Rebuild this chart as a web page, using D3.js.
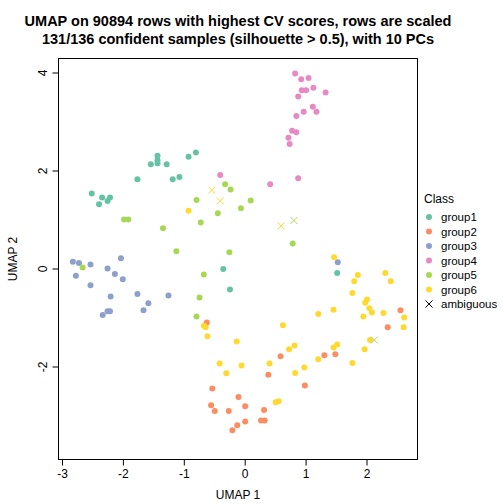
<!DOCTYPE html><html><head><script src="https://cdn.jsdelivr.net/npm/d3@7"></script>
<style>body{margin:0;background:#fff}text{font-family:"Liberation Sans",Arial,sans-serif}</style></head><body><svg id="c" width="504" height="504"></svg>
<script>
const groups=["group1","group2","group3","group4","group5","group6"];
const colors=["#66C2A5","#FC8D62","#8DA0CB","#E78AC3","#A6D854","#FFD92F"];
const xTicks=[-3,-2,-1,0,1,2];
const yTicks=[-2,0,2,4];
const g1=[[-2.52,1.54],[-2.40,1.32],[-2.35,1.46],[-2.26,1.39],[-2.22,1.46],[-1.77,1.83],[-1.55,2.14],[-1.44,2.31],[-1.44,2.22],[-1.44,2.16],[-1.29,2.14],[-1.19,1.83],[-1.08,1.88],[-0.93,2.29],[-0.81,2.38],[-0.36,0.0],[-0.25,-0.42],[1.51,-0.08]];
const g2=[[-0.63,-1.09],[-0.54,-2.44],[-0.11,-2.61],[-0.56,-2.78],[-0.50,-2.90],[-0.27,-2.90],[0.0,-2.80],[0.0,-3.11],[-0.13,-3.19],[-0.21,-3.29],[0.31,-2.88],[0.26,-3.09],[0.32,-3.09],[0.58,-1.78],[0.38,-2.16],[0.98,-2.38],[1.30,-1.76],[1.48,-1.74],[2.55,-0.84],[2.34,-1.19]];
const g3=[[-2.83,0.15],[-2.73,0.12],[-2.54,0.09],[-2.78,-0.14],[-2.54,-0.33],[-2.26,0.01],[-2.14,-0.10],[-2.04,0.22],[-2.01,-0.21],[-2.21,-0.56],[-1.77,-0.51],[-1.59,-0.70],[-1.67,-0.84],[-1.26,-0.54],[-2.34,-0.94],[-2.26,-0.86],[-2.22,-0.86],[1.52,0.14]];
const g4=[[0.82,3.99],[0.92,3.87],[1.04,3.90],[0.93,3.65],[1.00,3.65],[1.12,3.70],[1.32,3.60],[0.87,3.52],[1.11,3.31],[0.96,3.21],[1.17,3.21],[0.84,3.12],[0.77,2.82],[0.84,2.79],[0.71,2.68],[0.73,2.55],[0.87,1.85],[0.41,1.73],[-0.41,1.92]];
const g5=[[-0.33,1.73],[-0.24,1.62],[-0.80,1.41],[-0.07,1.24],[0.09,1.40],[-0.45,1.14],[-0.73,0.95],[-1.99,1.01],[-1.92,1.01],[-1.35,0.83],[-1.13,0.36],[-0.26,0.34],[0.78,0.52],[-2.67,0.03],[-0.68,-0.11],[-0.75,-0.58],[-0.80,-0.97]];
const g6=[[-0.93,1.19],[-0.68,-1.16],[-0.65,-1.19],[-0.62,-1.37],[-0.14,-1.48],[-0.42,-1.93],[-0.06,-1.97],[-0.31,-2.13],[1.46,0.24],[1.85,-0.12],[1.79,-0.25],[2.30,-0.08],[2.39,-0.25],[1.76,-0.49],[2.00,-0.62],[1.97,-0.69],[2.04,-0.80],[2.08,-0.89],[1.94,-0.97],[2.27,-0.90],[2.61,-0.99],[2.60,-1.19],[1.45,-0.83],[1.20,-0.92],[0.62,-1.15],[2.05,-1.45],[1.96,-1.64],[1.76,-1.92],[1.51,-1.54],[1.45,-1.60],[0.81,-1.56],[0.72,-1.64],[1.20,-1.84],[0.40,-1.93],[0.97,-2.01],[0.82,-2.12],[0.50,-2.72],[0.55,-2.70]];
const ambX=[-0.55,-0.41,0.59,0.80,2.12];
const ambY=[1.61,1.39,0.88,0.99,-1.45];
const ambG=[5,5,5,4,4];
const series=[g1,g2,g3,g4,g5,g6];
const svg=d3.select("#c");
const x=d3.scaleLinear().domain([-3,2]).range([62.5,367]);
const y=d3.scaleLinear().domain([-2,4]).range([367,73]);
const L=58.5,R=417.5,T=58.5,B=459.5;
svg.append("rect").attr("x",L).attr("y",T).attr("width",R-L).attr("height",B-T).attr("fill","none").attr("stroke","#000");
xTicks.forEach(t=>{svg.append("line").attr("x1",x(t)).attr("x2",x(t)).attr("y1",B).attr("y2",B+6).attr("stroke","#000");
 svg.append("text").attr("x",x(t)).attr("y",B+18).attr("text-anchor","middle").attr("font-size",12).text(t);});
yTicks.forEach(t=>{svg.append("line").attr("x1",L).attr("x2",L-6).attr("y1",y(t)).attr("y2",y(t)).attr("stroke","#000");
 svg.append("text").attr("transform",`translate(${L-12},${y(t)}) rotate(-90)`).attr("text-anchor","middle").attr("font-size",12).text(t);});
svg.append("line").attr("x1",x(-3)).attr("x2",x(2)).attr("y1",B).attr("y2",B).attr("stroke","#000");
svg.append("text").attr("x",238).attr("y",499).attr("text-anchor","middle").attr("font-size",12).text("UMAP 1");
svg.append("text").attr("transform","translate(17,259) rotate(-90)").attr("text-anchor","middle").attr("font-size",12).text("UMAP 2");
svg.append("text").attr("x",238).attr("y",26).attr("text-anchor","middle").attr("font-size",14.5).attr("font-weight","bold").text("UMAP on 90894 rows with highest CV scores, rows are scaled");
svg.append("text").attr("x",238).attr("y",44).attr("text-anchor","middle").attr("font-size",14.5).attr("font-weight","bold").text("131/136 confident samples (silhouette > 0.5), with 10 PCs");
series.forEach((s,i)=>svg.append("g").selectAll("circle").data(s).join("circle").attr("cx",d=>x(d[0])).attr("cy",d=>y(d[1])).attr("r",3).attr("fill",colors[i]));
ambX.forEach((v,i)=>{const cx=x(v),cy=y(ambY[i]);svg.append("path").attr("d",`M${cx-3.5},${cy-3.5}L${cx+3.5},${cy+3.5}M${cx-3.5},${cy+3.5}L${cx+3.5},${cy-3.5}`).attr("stroke",colors[ambG[i]]).attr("stroke-width",1);});
svg.append("text").attr("x",424).attr("y",203).attr("font-size",12).text("Class");
groups.concat(["ambiguous"]).forEach((g,i)=>{const cy=217+i*14.5;
 if(i<6)svg.append("circle").attr("cx",429).attr("cy",cy).attr("r",3).attr("fill",colors[i]);
 else svg.append("path").attr("d",`M425.5,${cy-3.5}L432.5,${cy+3.5}M425.5,${cy+3.5}L432.5,${cy-3.5}`).attr("stroke","#000");
 svg.append("text").attr("x",441).attr("y",cy+4).attr("font-size",11.5).text(g);});
</script></body></html>
